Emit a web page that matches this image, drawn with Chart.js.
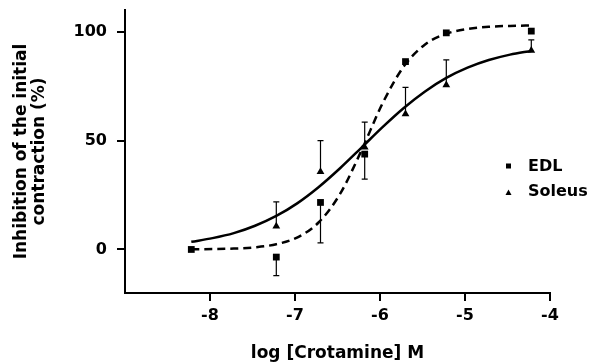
<!DOCTYPE html>
<html>
<head>
<meta charset="utf-8">
<script src="https://cdn.jsdelivr.net/npm/chart.js@4/dist/chart.umd.min.js"></script>
<style>
  html, body { margin: 0; padding: 0; background: #fff; }
  #wrap { width: 590px; height: 364px; }
</style>
</head>
<body>
<div id="wrap"><canvas id="doseChart" width="590" height="364"></canvas></div>
<script>
// log concentrations of the measured points
const doses = [-8.22, -7.22, -6.70, -6.18, -5.70, -5.22, -4.22];
const edlValues = [0, -3.5, 21.6, 43.8, 86.3, 99.5, 100.3];
const edlErrDown = [0, 8.5, 18.6, 11.5, 0, 0, 0];

const solDoses = [-7.22, -6.70, -6.18, -5.70, -5.22, -4.22];
const solValues = [10.7, 35.7, 47, 62.2, 75.6, 91.4];
const solErrUp = [11.2, 14.3, 11.5, 12.3, 11.5, 4.9];

// fitted curves
const fitX = [-8.22, -7.97, -7.72, -7.47, -7.22, -6.97, -6.72, -6.47, -6.22, -5.97, -5.72, -5.47, -5.22, -4.97, -4.72, -4.47, -4.22];
const edlFit = [0.1, 0.2, 0.4, 1.0, 2.4, 5.6, 12.5, 25.5, 45.3, 67.1, 84.1, 94.2, 99.1, 101.3, 102.3, 102.7, 102.9];
const solFit = [3.5, 5.2, 7.5, 10.9, 15.4, 21.3, 28.7, 37.3, 46.7, 56.2, 65.0, 72.6, 78.8, 83.5, 87.0, 89.5, 91.2];

const xTicks = [-8, -7, -6, -5, -4];
const yTicks = [0, 50, 100];
const legendNames = ['EDL', 'Soleus'];

const FONT = '"DejaVu Sans", sans-serif';

function pts(xs, ys) {
  return xs.map((x, i) => ({ x: x, y: ys[i] }));
}

// vertical error bars with small caps
const errorBars = {
  id: 'errorBars',
  afterDatasetsDraw(chart) {
    const ctx = chart.ctx;
    const xs = chart.scales.x, ys = chart.scales.y;
    ctx.save();
    ctx.strokeStyle = '#000';
    ctx.lineWidth = 1.2;
    const bar = (x, y0, y1) => {
      const px = xs.getPixelForValue(x);
      const a = ys.getPixelForValue(y0), b = ys.getPixelForValue(y1);
      ctx.beginPath();
      ctx.moveTo(px, a); ctx.lineTo(px, b);
      ctx.moveTo(px - 3, b); ctx.lineTo(px + 3, b);
      ctx.stroke();
    };
    doses.forEach((d, i) => { if (edlErrDown[i] > 0) bar(d, edlValues[i], edlValues[i] - edlErrDown[i]); });
    solDoses.forEach((d, i) => { if (solErrUp[i] > 0) bar(d, solValues[i], solValues[i] + solErrUp[i]); });
    ctx.restore();
  }
};

// legend drawn on the right side inside the plot
const sideLegend = {
  id: 'sideLegend',
  afterDraw(chart) {
    const ctx = chart.ctx;
    const right = chart.chartArea.right;
    ctx.save();
    ctx.fillStyle = '#000';
    ctx.font = 'bold 16px ' + FONT;
    ctx.textBaseline = 'middle';
    // square
    ctx.fillRect(right - 44, 163.5, 5, 5);
    ctx.fillText(legendNames[0], right - 22, 167);
    // triangle
    ctx.beginPath();
    ctx.moveTo(right - 41.5, 189.5);
    ctx.lineTo(right - 38.5, 195);
    ctx.lineTo(right - 44.5, 195);
    ctx.closePath();
    ctx.fill();
    ctx.fillText(legendNames[1], right - 22, 192);
    ctx.restore();
  }
};

new Chart(document.getElementById('doseChart'), {
  type: 'scatter',
  data: {
    datasets: [
      {
        type: 'line',
        data: pts(fitX, edlFit),
        borderColor: '#000',
        borderWidth: 2.5,
        borderDash: [8, 5],
        pointRadius: 0,
        cubicInterpolationMode: 'monotone',
        fill: false,
      },
      {
        type: 'line',
        data: pts(fitX, solFit),
        borderColor: '#000',
        borderWidth: 2.5,
        pointRadius: 0,
        cubicInterpolationMode: 'monotone',
        fill: false,
      },
      {
        label: legendNames[0],
        data: pts(doses, edlValues),
        pointStyle: 'rect',
        pointRadius: 4.8,
        backgroundColor: '#000',
        borderColor: '#000',
        borderWidth: 0,
      },
      {
        label: legendNames[1],
        data: pts(solDoses, solValues),
        pointStyle: 'triangle',
        pointRadius: 4.5,
        backgroundColor: '#000',
        borderColor: '#000',
        borderWidth: 0,
      },
    ],
  },
  options: {
    responsive: false,
    animation: false,
    layout: { padding: { left: 0, right: 40, top: 10, bottom: 0 } },
    plugins: {
      legend: { display: false },
      tooltip: { enabled: false },
    },
    scales: {
      x: {
        min: -9,
        max: -4,
        afterBuildTicks: (s) => { s.ticks = xTicks.map(v => ({ value: v })); },
        afterFit: (s) => { s.height = 71; s.paddingLeft = 0; s.paddingRight = 0; },
        border: { color: '#000', width: 2 },
        grid: { drawOnChartArea: false, drawTicks: true, tickLength: 8, color: '#000', lineWidth: 2 },
        ticks: {
          color: '#000',
          padding: 5,
          font: { family: FONT, size: 16, weight: 'bold' },
          callback: (v) => String(v),
        },
        title: {
          display: true,
          text: 'log [Crotamine] M',
          color: '#000',
          font: { family: FONT, size: 17, weight: 'bold' },
          padding: { top: 0, bottom: 0 },
        },
      },
      y: {
        min: -20,
        max: 110,
        afterBuildTicks: (s) => { s.ticks = yTicks.map(v => ({ value: v })); },
        afterFit: (s) => { s.width = 125; s.paddingTop = 0; s.paddingBottom = 0; },
        border: { color: '#000', width: 2 },
        grid: { drawOnChartArea: false, drawTicks: true, tickLength: 8, color: '#000', lineWidth: 2 },
        ticks: {
          color: '#000',
          padding: 10,
          font: { family: FONT, size: 16, weight: 'bold' },
          callback: (v) => String(v),
        },
        title: {
          display: true,
          text: ['Inhibition of the initial', 'contraction (%)'],
          color: '#000',
          font: { family: FONT, size: 17, weight: 'bold', lineHeight: 1.1 },
          padding: { top: 12, bottom: 0 },
        },
      },
    },
  },
  plugins: [errorBars, sideLegend],
});
</script>
</body>
</html>
